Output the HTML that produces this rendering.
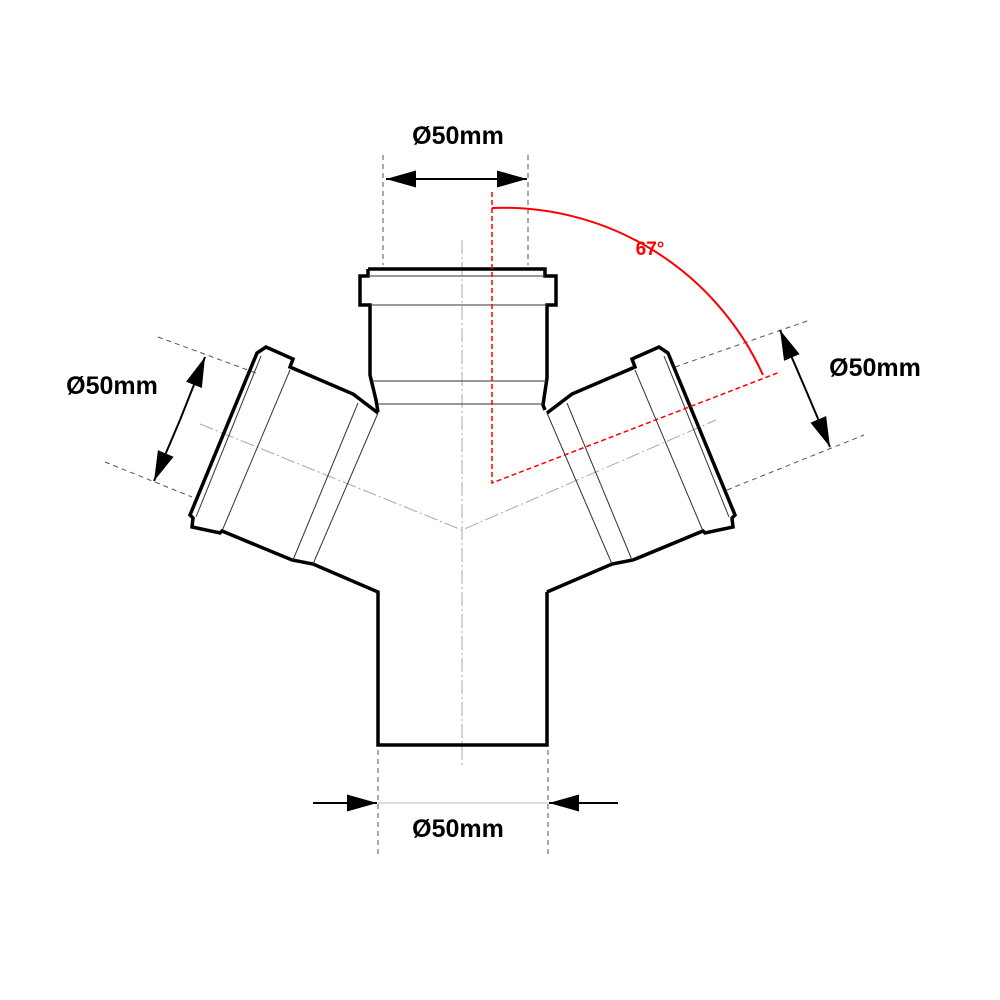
<!DOCTYPE html>
<html><head><meta charset="utf-8"><style>html,body{margin:0;padding:0;background:#fff}svg{display:block}</style></head>
<body>
<svg width="1000" height="1000" viewBox="0 0 1000 1000" xmlns="http://www.w3.org/2000/svg" font-family="Liberation Sans, sans-serif">
<defs>
<marker id="ah" viewBox="0 0 10 10" refX="10" refY="5" markerWidth="30" markerHeight="17" markerUnits="userSpaceOnUse" orient="auto" preserveAspectRatio="none"><path d="M0,0 L10,5 L0,10 z" fill="#000"/></marker>
</defs>
<g stroke="#aaa" stroke-width="1" fill="none" stroke-dasharray="14,3,2,3">
<line x1="462" y1="240" x2="462" y2="765"/>
<polyline points="200,424 462,530 716,420"/>
</g>
<g stroke="#555" stroke-width="1" fill="none" stroke-dasharray="5,4">
<line x1="383" y1="155" x2="383" y2="265"/>
<line x1="528" y1="155" x2="528" y2="265"/>
<line x1="158" y1="337" x2="256" y2="373"/>
<line x1="105" y1="462" x2="192" y2="497"/>
<line x1="675" y1="367" x2="810" y2="320"/>
<line x1="727" y1="490" x2="864" y2="435"/>
<line x1="378" y1="750" x2="378" y2="855"/>
<line x1="548" y1="750" x2="548" y2="855"/>
</g>
<g stroke="#000" stroke-width="3.5" fill="none" stroke-linejoin="miter">
<path d="M368,269 L545,269 L545,276 L556,276 L556,305 L547,305 L547,378 L543,405 L545,410"/>
<path d="M368,269 L368,276 L360,276 L360,305 L370,305 L370,375 L376,400 L378,412"/>
<path d="M378,413 L353,394 L290,367 L293,359 L266,347 L257,353 L190,515 L193,518 L192,527 L220,533 L222,531 L292,560 L313,564 L378,592 L378,745 L547,745 L547,592"/>
<path transform="translate(925,0) scale(-1,1)" d="M378,413 L353,394 L290,367 L293,359 L266,347 L257,353 L190,515 L193,518 L192,527 L220,533 L222,531 L292,560 L313,564 L378,592"/>
</g>
<g stroke="#333" stroke-width="1" fill="none">
<line x1="368" y1="276" x2="545" y2="276"/>
<line x1="370" y1="305" x2="547" y2="305"/>
<line x1="372" y1="381" x2="547" y2="381"/>
<line x1="378" y1="404" x2="543" y2="404"/>
<line x1="261" y1="356" x2="196" y2="517"/>
<line x1="290" y1="370" x2="222" y2="531"/>
<line x1="358" y1="403" x2="293" y2="560"/>
<line x1="378" y1="413" x2="313" y2="564"/>
<g transform="translate(925,0) scale(-1,1)">
<line x1="261" y1="356" x2="196" y2="517"/>
<line x1="290" y1="370" x2="222" y2="531"/>
<line x1="358" y1="403" x2="293" y2="560"/>
<line x1="378" y1="413" x2="313" y2="564"/>
</g>
<line x1="378" y1="803" x2="548" y2="803" stroke="#bbb"/>
</g>
<g stroke="#000" stroke-width="2" fill="none">
<line x1="440" y1="179" x2="386" y2="179" marker-end="url(#ah)"/>
<line x1="440" y1="179" x2="527" y2="179" marker-end="url(#ah)"/>
<line x1="180" y1="420" x2="205" y2="357" marker-end="url(#ah)"/>
<line x1="180" y1="420" x2="154" y2="481" marker-end="url(#ah)"/>
<line x1="805" y1="388" x2="780" y2="330" marker-end="url(#ah)"/>
<line x1="805" y1="388" x2="830" y2="447" marker-end="url(#ah)"/>
<line x1="313" y1="803" x2="377" y2="803" marker-end="url(#ah)"/>
<line x1="618" y1="803" x2="549" y2="803" marker-end="url(#ah)"/>
</g>
<g stroke="#f00" stroke-width="1.5" fill="none">
<polyline points="492,192 492,483 780,372" stroke-dasharray="5,3"/>
<path d="M492,208 A285,285 0 0 1 763,375" stroke-width="2"/>
</g>
<text x="650" y="255" fill="#f00" font-size="19" font-weight="bold" text-anchor="middle">67°</text>
<g font-size="25" font-weight="bold" fill="#000" text-anchor="middle">
<text x="458" y="144">Ø50mm</text>
<text x="112" y="394">Ø50mm</text>
<text x="875" y="376">Ø50mm</text>
<text x="458" y="837">Ø50mm</text>
</g>
</svg>
</body></html>
